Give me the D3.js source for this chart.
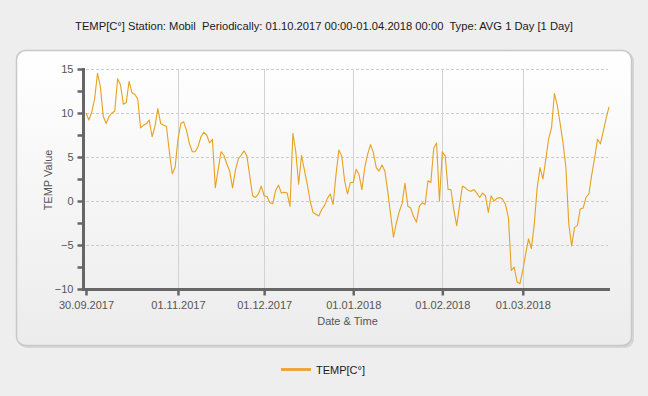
<!DOCTYPE html>
<html>
<head>
<meta charset="utf-8">
<script src="https://cdn.jsdelivr.net/npm/d3@7"></script>
<style>
  body { margin: 0; background: #eeeeee; }
  svg { display: block; font-family: "Liberation Sans", Arial, sans-serif; }
</style>
</head>
<body>
<div id="chart"></div>
<script>
// data (daily averages)
const firstDay = '30.09.2017';
const tempValues = [
  10.0, 9.2, 10.1, 11.6, 14.5, 13.0, 9.6, 8.8, 9.6, 10.0,
  10.2, 13.9, 13.2, 11.0, 11.2, 13.6, 12.3, 12.1, 11.6, 8.3,
  8.6, 8.8, 9.2, 7.3, 8.5, 10.5, 8.8, 8.6, 8.5, 5.6,
  3.1, 3.8, 7.0, 8.8, 9.0, 8.0, 6.5, 5.6, 5.6, 6.2,
  7.3, 7.8, 7.5, 6.6, 7.0, 1.5, 3.6, 5.6, 5.2, 4.2,
  3.4, 1.5, 3.5, 4.8, 5.2, 5.7, 5.1, 2.8, 0.6, 0.4,
  0.8, 1.7, 0.6, 0.5, -0.2, -0.3, 1.2, 1.8, 0.9, 1.0,
  0.9, -0.6, 7.7, 5.6, 1.9, 5.2, 3.5, 1.9, 0.0, -1.3,
  -1.5, -1.7, -1.0, -0.5, 0.3, 0.8, -0.4, 3.0, 5.8, 5.1,
  2.3, 0.8, 2.1, 2.1, 3.6, 3.0, 1.3, 3.8, 5.3, 6.4,
  5.5, 3.8, 3.4, 4.1, 3.4, 1.1, -1.5, -4.1, -2.5, -1.2,
  -0.3, 2.0, -0.6, -0.8, -1.8, -2.4, -0.6, -0.2, -0.4, 2.3,
  2.1, 6.0, 6.6, 0.0, 5.6, 5.1, 1.3, 1.3, -1.0, -2.8,
  -0.5, 1.7, 1.5, 1.2, 1.1, 1.3, 0.9, 0.4, 0.9, 0.6,
  -1.3, 0.6, 0.0, 0.3, 0.4, 0.2, -0.4, -1.9, -7.9, -7.5,
  -9.2, -9.4, -7.9, -6.0, -4.3, -5.4, -2.6, 1.5, 3.8, 2.5,
  4.7, 7.1, 8.3, 12.2, 10.9, 8.8, 6.6, 3.8, -2.6, -5.1,
  -3.0, -2.8, -0.9, -0.8, 0.4, 0.8, 3.0, 4.9, 7.0, 6.5,
  7.9, 9.4, 10.7
];
const xTickLabels = ['30.09.2017', '01.11.2017', '01.12.2017', '01.01.2018', '01.02.2018', '01.03.2018'];
const yMajorTicks = [-10, -5, 0, 5, 10, 15];
const yMinorTicks = [-7.5, -2.5, 2.5, 7.5, 12.5];
const yGridTicks = [-5, 0, 5, 10, 15];

const titleText = 'TEMP[C°] Station: Mobil\u00a0 Periodically: 01.10.2017 00:00-01.04.2018 00:00\u00a0 Type: AVG 1 Day [1 Day]';
const seriesName = 'TEMP[C°]';
const lineColor = '#e5a21e';

const width = 648, height = 396;
const parseDay = d3.utcParse('%d.%m.%Y');
const start = parseDay(firstDay);
const data = tempValues.map((v, i) => ({ date: d3.utcDay.offset(start, i), value: v }));

const svg = d3.select('#chart')
  .append('svg')
  .attr('width', width)
  .attr('height', height);

const defs = svg.append('defs');
const grad = defs.append('linearGradient')
  .attr('id', 'panelGrad')
  .attr('x1', 0).attr('y1', 0).attr('x2', 0).attr('y2', 1);
grad.append('stop').attr('offset', '0%').attr('stop-color', '#ffffff');
grad.append('stop').attr('offset', '100%').attr('stop-color', '#ececec');

svg.append('rect')
  .attr('width', width).attr('height', height)
  .attr('fill', '#eeeeee');

// panel with a soft shadow
svg.append('rect')
  .attr('x', 18).attr('y', 52).attr('width', 616).attr('height', 296)
  .attr('rx', 9)
  .attr('fill', '#d6d6d6');
svg.append('rect')
  .attr('x', 16.5).attr('y', 50.5).attr('width', 615).attr('height', 295)
  .attr('rx', 9)
  .attr('fill', 'url(#panelGrad)')
  .attr('stroke', '#c8c8c8')
  .attr('stroke-width', 1.5);

svg.append('text')
  .attr('x', 324).attr('y', 30)
  .attr('text-anchor', 'middle')
  .attr('font-size', 11.2)
  .attr('fill', '#1a1a1a')
  .text(titleText);

const x = d3.scaleUtc()
  .domain([start, d3.utcDay.offset(start, tempValues.length - 1)])
  .range([86, 609]);

const y = d3.scaleLinear()
  .domain([-10, 15])
  .range([289, 69]);

const xTicks = xTickLabels.map(parseDay);

// grid
svg.append('g')
  .selectAll('line')
  .data(yGridTicks)
  .enter()
  .append('line')
  .attr('x1', x.range()[0]).attr('x2', 608)
  .attr('y1', d => Math.round(y(d)) + 0.5).attr('y2', d => Math.round(y(d)) + 0.5)
  .attr('stroke', '#cccccc')
  .attr('stroke-dasharray', '3,2');

svg.append('g')
  .selectAll('line')
  .data(xTicks.slice(1))
  .enter()
  .append('line')
  .attr('x1', d => Math.round(x(d)) + 0.5).attr('x2', d => Math.round(x(d)) + 0.5)
  .attr('y1', y(15)).attr('y2', y(-10))
  .attr('stroke', '#d2d2d2');

// series
const line = d3.line()
  .x(d => x(d.date))
  .y(d => y(d.value));

svg.append('path')
  .datum(data)
  .attr('d', line)
  .attr('fill', 'none')
  .attr('stroke', lineColor)
  .attr('stroke-width', 1.1)
  .attr('stroke-linejoin', 'round');

// y axis
const yAxis = svg.append('g')
  .attr('transform', 'translate(83.5,0)')
  .call(d3.axisLeft(y).tickValues(yMajorTicks).tickSize(6).tickSizeOuter(0).tickPadding(4));
svg.append('g')
  .attr('transform', 'translate(83.5,0)')
  .call(d3.axisLeft(y).tickValues(yMinorTicks).tickSize(6).tickSizeOuter(0).tickFormat(''))
  .select('.domain').remove();

// x axis
const xAxis = svg.append('g')
  .attr('transform', 'translate(0,289.5)')
  .call(d3.axisBottom(x).tickValues(xTicks).tickSize(6).tickSizeOuter(0).tickPadding(6)
    .tickFormat(d3.utcFormat('%d.%m.%Y')));

svg.selectAll('.domain')
  .attr('stroke', '#666666')
  .attr('stroke-width', 3);
svg.selectAll('.tick line')
  .attr('stroke', '#666666')
  .attr('stroke-width', 2.5);
svg.selectAll('.tick text')
  .attr('font-size', 11)
  .attr('font-family', '"Liberation Sans", Arial, sans-serif')
  .attr('fill', '#555555');

xAxis.select('.domain').attr('d', 'M82,0H610');
yAxis.select('.domain').attr('d', 'M0,68V291');

// axis titles
svg.append('text')
  .attr('x', (x.range()[0] + x.range()[1]) / 2)
  .attr('y', 325)
  .attr('text-anchor', 'middle')
  .attr('font-size', 11)
  .attr('fill', '#555555')
  .text('Date & Time');

svg.append('text')
  .attr('transform', 'translate(52,180) rotate(-90)')
  .attr('text-anchor', 'middle')
  .attr('font-size', 11)
  .attr('fill', '#555555')
  .text('TEMP Value');

// legend
svg.append('line')
  .attr('x1', 281).attr('x2', 311)
  .attr('y1', 369.5).attr('y2', 369.5)
  .attr('stroke', '#e8a83a')
  .attr('stroke-width', 3);
svg.append('text')
  .attr('x', 316).attr('y', 374)
  .attr('font-size', 11)
  .attr('fill', '#1a1a1a')
  .text(seriesName);
</script>
</body>
</html>
